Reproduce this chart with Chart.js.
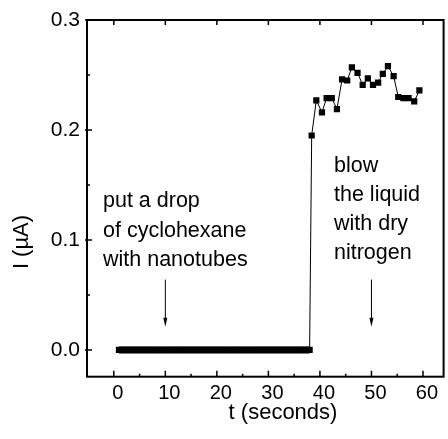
<!DOCTYPE html>
<html>
<head>
<meta charset="utf-8">
<script src="https://cdn.jsdelivr.net/npm/chart.js@4/dist/chart.umd.min.js"></script>
<style>
  html, body { margin: 0; padding: 0; background: #fff; }
  #wrap { width: 448px; height: 439px; }
</style>
</head>
<body>
<div id="wrap"><canvas id="canvas"></canvas></div>
<script>
// baseline before the drop (seconds, uA)
const timeLow = [1, 2, 3, 4, 5, 6, 7, 8, 9, 10, 11, 12, 13, 14, 15, 16, 17, 18, 19,
                 20, 21, 22, 23, 24, 25, 26, 27, 28, 29, 30, 31, 32, 33, 34, 35, 36, 37, 38];
const currentLow = [0, 0, 0, 0, 0, 0, 0, 0, 0, 0, 0, 0, 0, 0, 0, 0, 0, 0, 0,
                    0, 0, 0, 0, 0, 0, 0, 0, 0, 0, 0, 0, 0, 0, 0, 0, 0, 0, 0];
// after the drop
const timeHigh = [38.4, 39.3, 40.4, 41.3, 42.3, 43.3, 44.3, 45.3, 46.2, 47.3, 48.3,
                  49.3, 50.3, 51.3, 52.2, 53.2, 54.3, 55.2, 56.2, 57.2, 58.3, 59.3];
const currentHigh = [0.195, 0.227, 0.216, 0.229, 0.229, 0.219, 0.246, 0.245, 0.257, 0.252, 0.241,
                     0.247, 0.241, 0.243, 0.251, 0.258, 0.249, 0.230, 0.229, 0.229, 0.226, 0.236];

const xMajor = [0, 10, 20, 30, 40, 50, 60];
const xMinor = [5, 15, 25, 35, 45, 55];
const yMajor = [0.0, 0.1, 0.2, 0.3];
const yMinor = [0.05, 0.15, 0.25];

const noteDrop = ['put a drop', 'of cyclohexane', 'with nanotubes'];
const noteBlow = ['blow', 'the liquid', 'with dry', 'nitrogen'];
const arrowAt = [10, 50];

var points = [];
timeLow.forEach(function (t, i) { points.push({x: t, y: currentLow[i]}); });
timeHigh.forEach(function (t, i) { points.push({x: t, y: currentHigh[i]}); });

var FONT = '"Liberation Sans", Arial, Helvetica, sans-serif';

// frame, inward ticks, notes, arrows and axis titles
var decor = {
    id: 'decor',
    afterDraw: function (chart) {
        var ctx = chart.ctx,
            a = chart.chartArea,
            xs = chart.scales.x,
            ys = chart.scales.y;
        ctx.save();
        ctx.strokeStyle = '#000';
        ctx.fillStyle = '#000';

        ctx.lineWidth = 2;
        ctx.strokeRect(a.left, a.top, a.right - a.left, a.bottom - a.top);

        ctx.lineWidth = 1.5;
        ctx.beginPath();
        xMajor.forEach(function (v) {
            var px = xs.getPixelForValue(v);
            ctx.moveTo(px, a.bottom); ctx.lineTo(px, a.bottom - 6);
            ctx.moveTo(px, a.top); ctx.lineTo(px, a.top + 5);
        });
        xMinor.forEach(function (v) {
            var px = xs.getPixelForValue(v);
            ctx.moveTo(px, a.bottom); ctx.lineTo(px, a.bottom - 3);
        });
        yMajor.forEach(function (v) {
            var py = ys.getPixelForValue(v);
            ctx.moveTo(a.left - 2, py); ctx.lineTo(a.left + 5, py);
        });
        yMinor.forEach(function (v) {
            var py = ys.getPixelForValue(v);
            ctx.moveTo(a.left, py); ctx.lineTo(a.left + 3, py);
        });
        ctx.stroke();

        // notes
        ctx.font = '21.5px ' + FONT;
        ctx.textAlign = 'left';
        ctx.textBaseline = 'alphabetic';
        noteDrop.forEach(function (s, i) { ctx.fillText(s, 103, 207 + i * 29.5); });
        noteBlow.forEach(function (s, i) { ctx.fillText(s, 334, 172 + i * 29); });

        // arrows
        ctx.lineWidth = 1;
        arrowAt.forEach(function (v) {
            var px = xs.getPixelForValue(v),
                y1 = ys.getPixelForValue(0.064),
                y2 = ys.getPixelForValue(0.021);
            ctx.beginPath();
            ctx.moveTo(px, y1); ctx.lineTo(px, y2 - 6);
            ctx.stroke();
            ctx.beginPath();
            ctx.moveTo(px - 2, y2 - 9); ctx.lineTo(px + 2, y2 - 9); ctx.lineTo(px, y2);
            ctx.closePath();
            ctx.fill();
        });

        // axis titles
        ctx.font = '22px ' + FONT;
        ctx.textAlign = 'center';
        ctx.textBaseline = 'middle';
        ctx.fillText('t (seconds)', 283, 413);
        ctx.translate(22, 242);
        ctx.rotate(-Math.PI / 2);
        ctx.fillText('I (\u00b5A)', 0, 0);
        ctx.restore();
    }
};

new Chart(document.getElementById('canvas').getContext('2d'), {
    type: 'scatter',
    data: {
        datasets: [{
            data: points,
            showLine: true,
            borderColor: '#000',
            borderWidth: 1,
            backgroundColor: '#000',
            pointStyle: 'rect',
            pointRadius: 4.4,
            pointBorderWidth: 0,
            tension: 0,
            segment: {
                borderWidth: function (c) {
                    return (c.p0.parsed.y === 0 && c.p1.parsed.y === 0) ? 7 : 1;
                }
            }
        }]
    },
    options: {
        responsive: true,
        maintainAspectRatio: false,
        animation: false,
        events: [],
        layout: {padding: {top: 20, right: 3, left: 0, bottom: 0}},
        plugins: {legend: {display: false}, tooltip: {enabled: false}},
        scales: {
            x: {
                type: 'linear',
                min: -5.2,
                max: 64,
                grid: {display: false, drawTicks: false},
                border: {display: false},
                afterBuildTicks: function (scale) {
                    scale.ticks = xMajor.map(function (v) { return {value: v}; });
                },
                afterFit: function (scale) { scale.height = 62.3; },
                ticks: {
                    autoSkip: false,
                    maxRotation: 0,
                    padding: 5,
                    labelOffset: 4,
                    color: '#000',
                    font: {family: FONT, size: 20},
                    callback: function (v) { return String(v); }
                }
            },
            y: {
                type: 'linear',
                min: -0.0243,
                max: 0.3,
                grid: {display: false, drawTicks: false},
                border: {display: false},
                afterBuildTicks: function (scale) {
                    scale.ticks = yMajor.map(function (v) { return {value: v}; });
                },
                afterFit: function (scale) { scale.width = 87; },
                ticks: {
                    autoSkip: false,
                    padding: 7,
                    color: '#000',
                    font: {family: FONT, size: 21},
                    callback: function (v) { return v.toFixed(1); }
                }
            }
        }
    },
    plugins: [decor]
});
</script>
</body>
</html>
